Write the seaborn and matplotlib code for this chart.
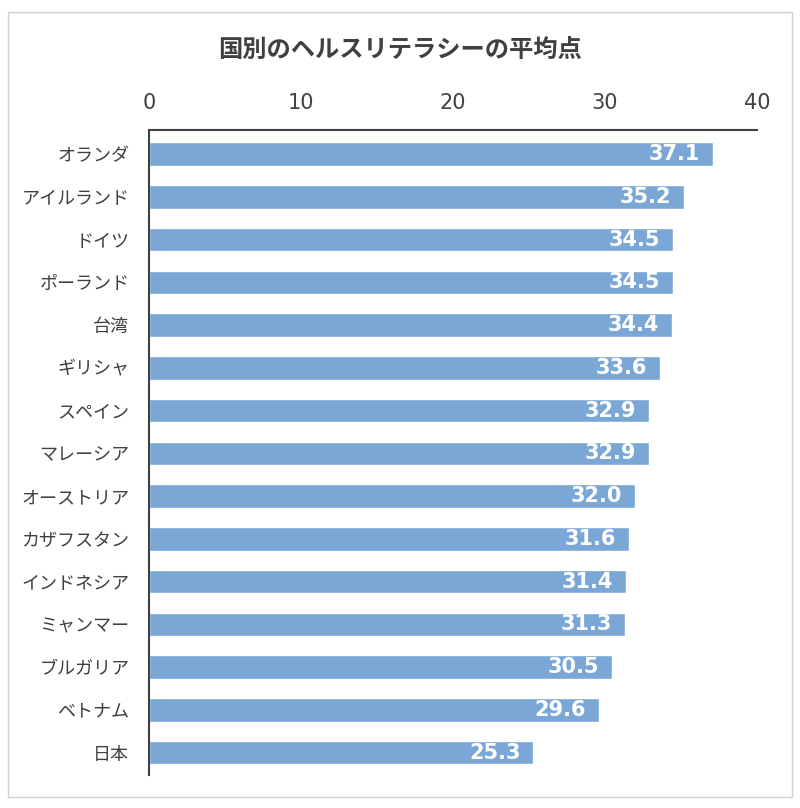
import matplotlib
matplotlib.use('Agg')
import matplotlib.pyplot as plt
import seaborn as sns
import pandas as pd
from matplotlib.patches import Rectangle

# Data
countries = ['オランダ', 'アイルランド', 'ドイツ', 'ポーランド', '台湾', 'ギリシャ', 'スペイン',
             'マレーシア', 'オーストリア', 'カザフスタン', 'インドネシア', 'ミャンマー',
             'ブルガリア', 'ベトナム', '日本']
scores = [37.1, 35.2, 34.5, 34.5, 34.4, 33.6, 32.9, 32.9, 32.0, 31.6, 31.4, 31.3, 30.5, 29.6, 25.3]
x_ticks = [0, 10, 20, 30, 40]
title = '国別のヘルスリテラシーの平均点'

df = pd.DataFrame({'country': countries, 'score': scores})

sns.set_theme(style='white')
plt.rcParams['font.family'] = ['Noto Sans CJK JP', 'DejaVu Sans']

fig = plt.figure(figsize=(8, 8.08), dpi=100)
ax = fig.add_axes([0.186, 0.041, 0.76, 0.798])

sns.barplot(data=df, x='score', y='country', orient='h', color='#7BA7D7',
            saturation=1, width=0.55, ax=ax)

# value labels inside bar ends
for i, v in enumerate(scores):
    ax.text(v - 0.85, i, f'{v:.1f}', ha='right', va='center', color='white',
            fontsize=15, fontweight='bold', family=['DejaVu Sans'])

ax.set_xlim(0, 40)
ax.set_ylim(14.52, -0.56)
ax.set_xticks(x_ticks)
ax.xaxis.tick_top()
ax.tick_params(axis='x', length=0, pad=12, labelsize=15, labelcolor='#404040')
ax.tick_params(axis='y', length=0, pad=14, labelsize=13, labelcolor='#404040')
for lbl in ax.get_xticklabels():
    lbl.set_family(['DejaVu Sans'])
ax.set_xlabel('')
ax.set_ylabel('')
for s in ['right', 'bottom']:
    ax.spines[s].set_visible(False)
ax.spines['top'].set_color('#404040')
ax.spines['left'].set_color('#404040')
ax.spines['top'].set_linewidth(1.5)
ax.spines['left'].set_linewidth(1.5)

fig.text(0.5, 0.938, title, ha='center', va='center', fontsize=17.5,
         fontweight='bold', color='#404040')

# outer frame
fig.patches.append(Rectangle((0.01, 0.014), 0.98, 0.971, transform=fig.transFigure,
                             fill=False, edgecolor='#D0D0D0', linewidth=1))

fig.savefig('out.png', dpi=100)
